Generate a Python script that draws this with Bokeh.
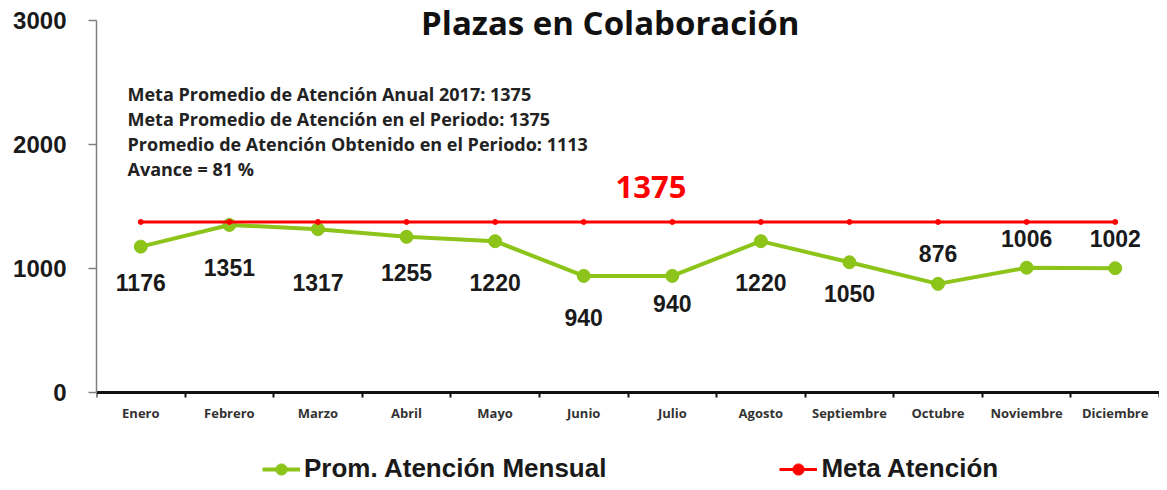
from bokeh.plotting import figure
from bokeh.models import (ColumnDataSource, FixedTicker, Label, Legend, LegendItem, Range1d)
from bokeh.embed import file_html
from bokeh.resources import INLINE
from bokeh.core.properties import value

# ---- data ----
months = ["Enero", "Febrero", "Marzo", "Abril", "Mayo", "Junio", "Julio",
          "Agosto", "Septiembre", "Octubre", "Noviembre", "Diciembre"]
atencion = [1176, 1351, 1317, 1255, 1220, 940, 940, 1220, 1050, 876, 1006, 1002]
meta = [1375] * 12
y_ticks = [0, 1000, 2000, 3000]
info_lines = [
    "Meta Promedio de Atención Anual 2017: 1375",
    "Meta Promedio de Atención en el Periodo: 1375",
    "Promedio de Atención Obtenido en el Periodo: 1113",
    "Avance = 81 %",
]
title_text = "Plazas en Colaboración"
legend_labels = ["Prom. Atención Mensual", "Meta Atención"]

# label vertical offsets (px, positive = down)
label_dy = [36, 43, 53, 36, 41, 42, 28, 41, 31, -30, -29, -30]

GREEN = "#8CC41A"
RED = "#FF0000"
DARK = "#1a1a1a"

xs = [i + 0.5 for i in range(len(months))]
src = ColumnDataSource(dict(x=xs, y=atencion, meta=meta,
                            lab=[str(v) for v in atencion], dy=label_dy))

# frame covers the full height; the x axis is pinned at y=0 inside it
p = figure(width=1159, height=482, x_range=Range1d(0, 12), y_range=Range1d(-726, 3161),
           output_backend="svg", toolbar_location=None,
           min_border_left=96, min_border_right=0, min_border_top=0, min_border_bottom=0)
p.outline_line_color = None
p.grid.visible = False

# y axis
p.yaxis.bounds = (0, 3000)
p.yaxis.ticker = FixedTicker(ticks=y_ticks, minor_ticks=[])
p.yaxis.axis_line_color = "#808080"
p.yaxis.axis_line_width = 1.5
p.yaxis.major_tick_out = 8
p.yaxis.major_tick_in = 0
p.yaxis.major_tick_line_color = "#808080"
p.yaxis.major_tick_line_width = 1.5
p.yaxis.minor_tick_line_color = None
p.yaxis.major_label_text_font = "Liberation Sans"
p.yaxis.major_label_text_font_style = "bold"
p.yaxis.major_label_text_font_size = "24px"
p.yaxis.major_label_text_color = DARK
p.yaxis.major_label_standoff = 22

# x axis
p.xaxis.fixed_location = 0
p.xaxis.ticker = FixedTicker(ticks=xs, minor_ticks=list(range(len(months) + 1)))
p.xaxis.major_label_overrides = {x: m for x, m in zip(xs, months)}
p.xaxis.axis_line_color = "#111111"
p.xaxis.axis_line_width = 3
p.xaxis.major_tick_line_color = None
p.xaxis.major_tick_out = 0
p.xaxis.major_tick_in = 0
p.xaxis.minor_tick_out = 5
p.xaxis.minor_tick_in = 0
p.xaxis.minor_tick_line_color = "#111111"
p.xaxis.minor_tick_line_width = 2
p.xaxis.major_label_text_font = "Open Sans"
p.xaxis.major_label_text_font_style = "bold"
p.xaxis.major_label_text_font_size = "13px"
p.xaxis.major_label_text_color = "#333333"
p.xaxis.major_label_standoff = 7

# series
gl = p.line("x", "y", source=src, line_color=GREEN, line_width=4)
gs = p.scatter("x", "y", source=src, marker="circle", size=13,
               fill_color=GREEN, line_color=GREEN)
rl = p.line("x", "meta", source=src, line_color=RED, line_width=3)
rs = p.scatter("x", "meta", source=src, marker="circle", size=5,
               fill_color=RED, line_color=RED)

# data labels
p.text("x", "y", text="lab", source=src, y_offset="dy",
       text_align="center", text_baseline="middle",
       text_font=value("Liberation Sans"), text_font_style="bold",
       text_font_size="23px", text_color=DARK)

# target label
p.add_layout(Label(x=6.26, y=1661, text=str(meta[0]), text_align="center",
                   text_baseline="middle", text_font="Open Sans", text_font_style="bold",
                   text_font_size="31px", text_color=RED))

# info box
for i, line in enumerate(info_lines):
    p.add_layout(Label(x=0.35, y=2411 - i * 202, text=line, text_align="left",
                       text_baseline="middle", text_font="Open Sans",
                       text_font_style="bold", text_font_size="18px", text_color="#222222"))

# title
p.add_layout(Label(x=5.8, y=2980, text=title_text, text_align="center",
                   text_baseline="alphabetic", text_font="Open Sans", text_font_style="bold",
                   text_font_size="33px", text_color="#111111"))

legend = Legend(items=[LegendItem(label=legend_labels[0], renderers=[gl, gs]),
                       LegendItem(label=legend_labels[1], renderers=[rl, rs])],
                location=(166, -2), orientation="horizontal", spacing=173,
                glyph_width=38, glyph_height=28, label_height=28, label_standoff=4,
                padding=0, margin=0, border_line_color=None, background_fill_alpha=0,
                label_text_font="Liberation Sans", label_text_font_style="bold",
                label_text_font_size="26px", label_text_color=DARK)
p.add_layout(legend, "center")

open("out.html", "w").write(file_html(p, INLINE))
